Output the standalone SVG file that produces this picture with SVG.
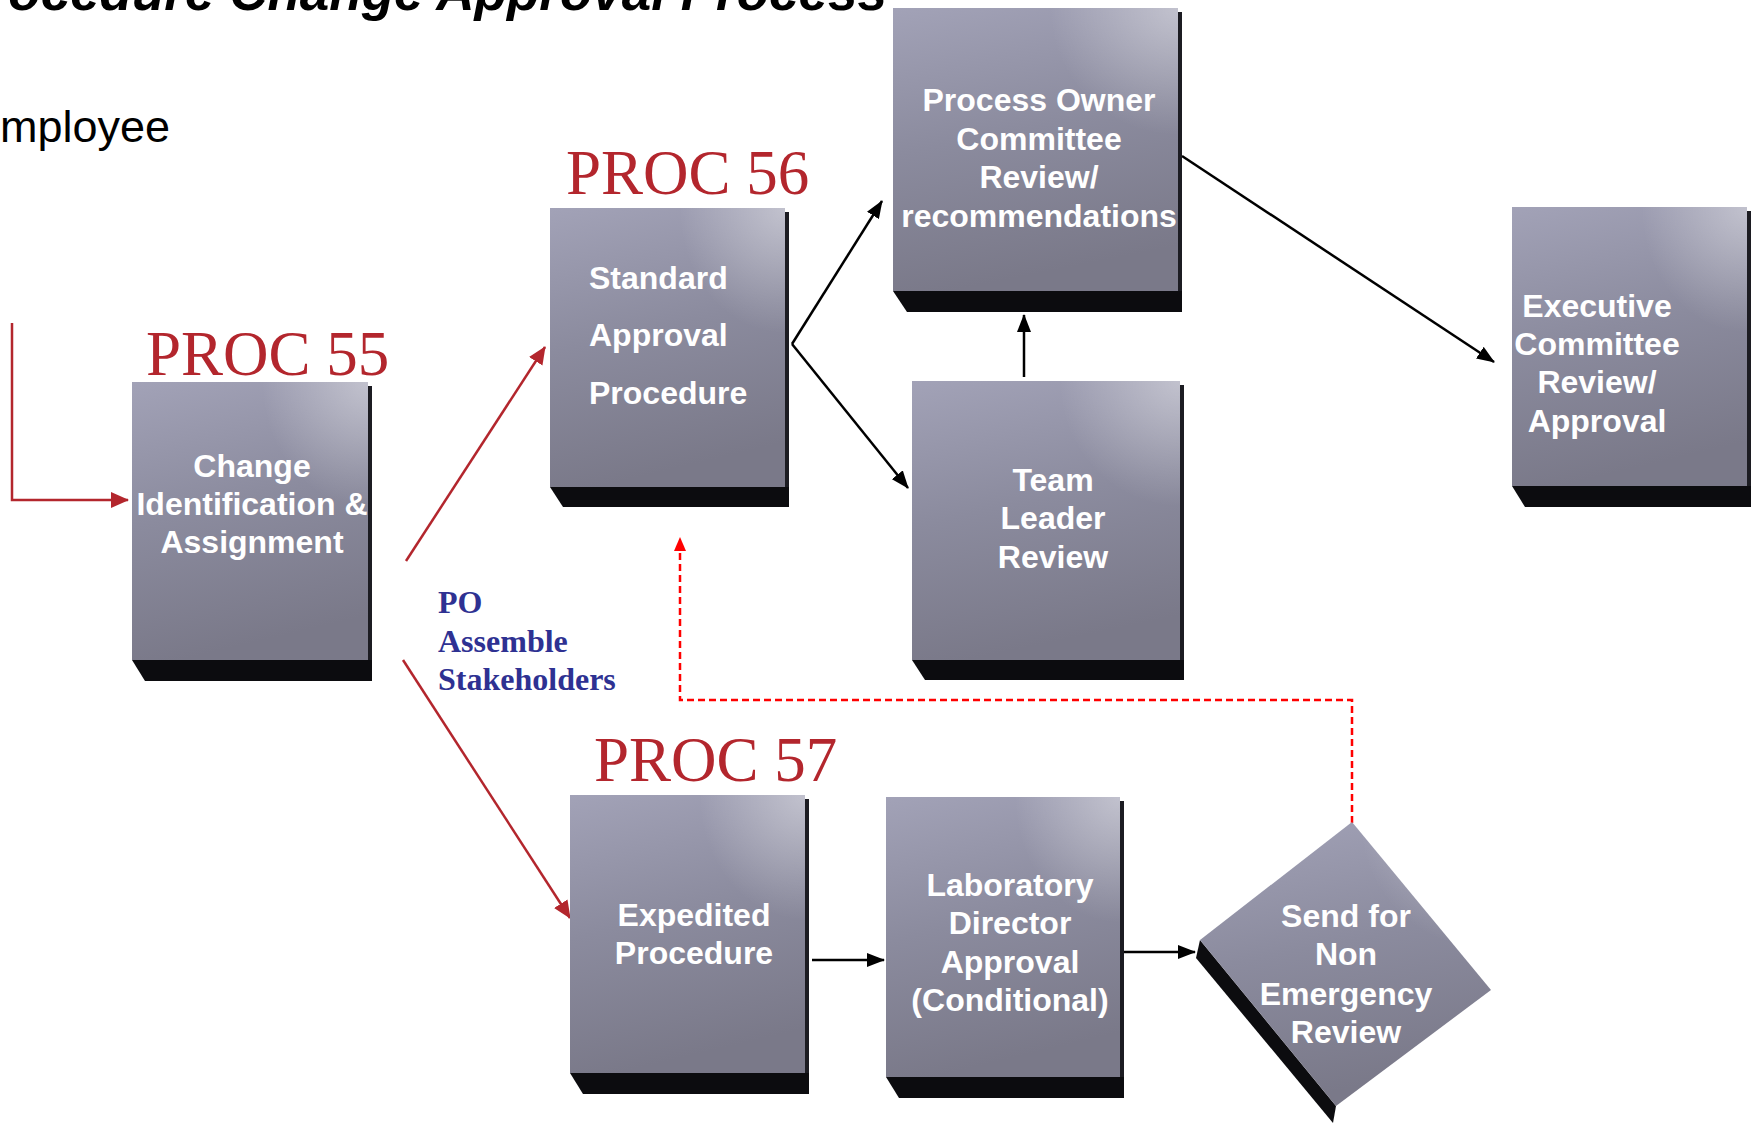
<svg xmlns="http://www.w3.org/2000/svg" width="1756" height="1124" viewBox="0 0 1756 1124">
<defs>
<linearGradient id="face" x1="0" y1="0" x2="0.2" y2="1">
<stop offset="0" stop-color="#a2a2b7"/>
<stop offset="0.5" stop-color="#8b8b9e"/>
<stop offset="1" stop-color="#7a7989"/>
</linearGradient>
<radialGradient id="hl" cx="1" cy="0" r="0.45">
<stop offset="0" stop-color="#ffffff" stop-opacity="0.4"/>
<stop offset="1" stop-color="#ffffff" stop-opacity="0"/>
</radialGradient>
<marker id="ab" markerUnits="userSpaceOnUse" markerWidth="18" markerHeight="14" refX="17" refY="7" orient="auto">
<path d="M0,0 L18,7 L0,14 z" fill="#000"/>
</marker>
<marker id="ar" markerUnits="userSpaceOnUse" markerWidth="18" markerHeight="16" refX="17" refY="8" orient="auto">
<path d="M0,0 L18,8 L0,16 z" fill="#b3262d"/>
</marker>
<marker id="ad" markerUnits="userSpaceOnUse" markerWidth="14" markerHeight="12" refX="13" refY="6" orient="auto">
<path d="M0,0 L14,6 L0,12 z" fill="#ff0000"/>
</marker>
</defs>
<style>
.f{fill:url(#face)}
.h{fill:url(#hl)}
.s{fill:#0c0c0f}
.e{fill:#1c1c22}
.t{font-family:"Liberation Sans",Arial,sans-serif;font-weight:bold;font-size:32px;fill:#ffffff;text-anchor:middle}
.l{text-anchor:start}
.p{font-family:"Liberation Serif","Times New Roman",serif;font-size:63px;fill:#b3262d}
.c{fill:none;stroke-width:2.5}
</style>
<rect width="1756" height="1124" fill="#ffffff"/>
<text x="887" y="10" font-family="'Liberation Sans',Arial,sans-serif" font-weight="bold" font-style="italic" font-size="53" text-anchor="end" fill="#000">ocedure Change Approval Process</text>
<text x="0" y="142" font-family="'Liberation Sans',Arial,sans-serif" font-size="45" fill="#000">mployee</text>
<text class="p" x="146" y="375">PROC 55</text>
<text class="p" x="566" y="194">PROC 56</text>
<text class="p" x="594" y="781">PROC 57</text>
<g id="label-po" font-family="'Liberation Serif','Times New Roman',serif" font-weight="bold" font-size="32" fill="#2e3192">
<text x="438" y="613">PO</text>
<text x="438" y="652">Assemble</text>
<text x="438" y="690">Stakeholders</text>
</g>
<g id="connectors">
<path class="c" d="M12,323 V500 H128" stroke="#b3262d" marker-end="url(#ar)"/>
<path class="c" d="M406,561 L545,347" stroke="#b3262d" marker-end="url(#ar)"/>
<path class="c" d="M403,660 L570,918" stroke="#b3262d" marker-end="url(#ar)"/>
<path class="c" d="M792,344 L882,201" stroke="#000" marker-end="url(#ab)"/>
<path class="c" d="M792,344 L908,488" stroke="#000" marker-end="url(#ab)"/>
<path class="c" d="M1024,377 V315" stroke="#000" marker-end="url(#ab)"/>
<path class="c" d="M1182,156 L1494,362" stroke="#000" marker-end="url(#ab)"/>
<path class="c" d="M812,960 H884" stroke="#000" marker-end="url(#ab)"/>
<path class="c" d="M1124,952 H1195" stroke="#000" marker-end="url(#ab)"/>
<path class="c" d="M1352,823 V700 H680 V538" stroke="#ff0000" stroke-dasharray="7,4" marker-end="url(#ad)"/>
</g>
<g id="n-change">
<rect class="e" x="368" y="386" width="4" height="274"/>
<rect class="f" x="132" y="382" width="236" height="278"/>
<rect class="h" x="132" y="382" width="236" height="278"/>
<polygon class="s" points="132,660 372,660 372,681 145,681"/>
<text class="t" x="252" y="477">Change</text>
<text class="t" x="252" y="515">Identification &amp;</text>
<text class="t" x="252" y="553">Assignment</text>
</g>
<g id="n-standard">
<rect class="e" x="785" y="212" width="4" height="275"/>
<rect class="f" x="550" y="208" width="235" height="279"/>
<rect class="h" x="550" y="208" width="235" height="279"/>
<polygon class="s" points="550,487 789,487 789,507 563,507"/>
<text class="t l" x="589" y="289">Standard</text>
<text class="t l" x="589" y="346">Approval</text>
<text class="t l" x="589" y="404">Procedure</text>
</g>
<g id="n-process-owner">
<rect class="e" x="1178" y="12" width="4" height="279"/>
<rect class="f" x="893" y="8" width="285" height="283"/>
<rect class="h" x="893" y="8" width="285" height="283"/>
<polygon class="s" points="893,291 1182,291 1182,312 907,312"/>
<text class="t" x="1039" y="111">Process Owner</text>
<text class="t" x="1039" y="150">Committee</text>
<text class="t" x="1039" y="188">Review/</text>
<text class="t" x="1039" y="227">recommendations</text>
</g>
<g id="n-team-leader">
<rect class="e" x="1180" y="385" width="4" height="275"/>
<rect class="f" x="912" y="381" width="268" height="279"/>
<rect class="h" x="912" y="381" width="268" height="279"/>
<polygon class="s" points="912,660 1184,660 1184,680 925,680"/>
<text class="t" x="1053" y="491">Team</text>
<text class="t" x="1053" y="529">Leader</text>
<text class="t" x="1053" y="568">Review</text>
</g>
<g id="n-executive">
<rect class="e" x="1747" y="211" width="4" height="275"/>
<rect class="f" x="1512" y="207" width="235" height="279"/>
<rect class="h" x="1512" y="207" width="235" height="279"/>
<polygon class="s" points="1512,486 1751,486 1751,507 1525,507"/>
<text class="t" x="1597" y="317">Executive</text>
<text class="t" x="1597" y="355">Committee</text>
<text class="t" x="1597" y="393">Review/</text>
<text class="t" x="1597" y="432">Approval</text>
</g>
<g id="n-expedited">
<rect class="e" x="805" y="799" width="4" height="274"/>
<rect class="f" x="570" y="795" width="235" height="278"/>
<rect class="h" x="570" y="795" width="235" height="278"/>
<polygon class="s" points="570,1073 809,1073 809,1094 583,1094"/>
<text class="t" x="694" y="926">Expedited</text>
<text class="t" x="694" y="964">Procedure</text>
</g>
<g id="n-laboratory">
<rect class="e" x="1120" y="801" width="4" height="276"/>
<rect class="f" x="886" y="797" width="234" height="280"/>
<rect class="h" x="886" y="797" width="234" height="280"/>
<polygon class="s" points="886,1077 1124,1077 1124,1098 899,1098"/>
<text class="t" x="1010" y="896">Laboratory</text>
<text class="t" x="1010" y="934">Director</text>
<text class="t" x="1010" y="973">Approval</text>
<text class="t" x="1010" y="1011">(Conditional)</text>
</g>
<g id="n-send">
<polygon class="s" points="1200,940 1336,1106 1333,1123 1196,958"/>
<polygon class="f" points="1352,822 1491,990 1336,1106 1200,940"/>
<polygon class="h" points="1352,822 1491,990 1336,1106 1200,940"/>
<text class="t" x="1346" y="927">Send for</text>
<text class="t" x="1346" y="965">Non</text>
<text class="t" x="1346" y="1005">Emergency</text>
<text class="t" x="1346" y="1043">Review</text>
</g>
</svg>
